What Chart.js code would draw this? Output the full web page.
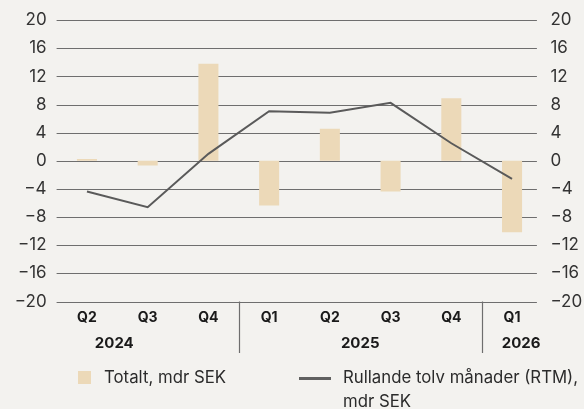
<!DOCTYPE html>
<html>
<head>
<meta charset="utf-8">
<script src="https://cdn.jsdelivr.net/npm/chart.js@4.4.1/dist/chart.umd.min.js"></script>
<style>
body{margin:0;background:#f3f2ef;font-family:Inter,"Open Sans",sans-serif;}
#wrap{position:relative;width:584px;height:409px;}
#legend{position:absolute;left:0;top:0;width:584px;height:409px;pointer-events:none;color:#2b2b2b;font-size:16.8px;}
.sw{position:absolute;left:78px;top:371px;width:13px;height:13px;background:#ecd9b8;}
.ln{position:absolute;left:299px;top:377px;width:32px;height:3px;background:#606060;}
.t1{position:absolute;left:104px;top:365px;line-height:24px;white-space:nowrap;}
.t2{position:absolute;left:343px;top:365px;line-height:24px;white-space:nowrap;}
</style>
</head>
<body>
<div id="wrap">
<canvas id="mycanvas" width="584" height="409"></canvas>
<div id="legend">
  <div class="sw"></div><div class="t1">Totalt, mdr SEK</div>
  <div class="ln"></div><div class="t2">Rullande tolv månader (RTM),<br>mdr SEK</div>
</div>
</div>
<script>
var quarters = ['Q2','Q3','Q4','Q1','Q2','Q3','Q4','Q1'];
var years = ['2024','2025','2026'];
var totalt = [0.25, -0.65, 13.8, -6.35, 4.55, -4.35, 8.9, -10.15];
var rtm = [-4.35, -6.6, 1.0, 7.05, 6.85, 8.25, 2.5, -2.55];

var gridColor = '#6e6e6e';
var textColor = '#333333';

function minus(v){ return String(v).replace('-', '\u2212'); }

// grid lines, year labels and separators
var decor = {
  id: 'decor',
  beforeDatasetsDraw: function(chart){
    var ctx = chart.ctx, a = chart.chartArea, y = chart.scales.y;
    ctx.save();
    ctx.strokeStyle = gridColor;
    ctx.lineWidth = 1.2;
    y.ticks.forEach(function(t){
      var py = Math.round(y.getPixelForValue(t.value)) + 0.5;
      ctx.beginPath();
      ctx.moveTo(a.left, py);
      ctx.lineTo(a.right - 5.5, py);
      ctx.stroke();
    });
    ctx.restore();
  },
  afterDraw: function(chart){
    var ctx = chart.ctx, a = chart.chartArea, x = chart.scales.x;
    ctx.save();
    ctx.strokeStyle = gridColor;
    ctx.lineWidth = 1.2;
    [2.5, 6.5].forEach(function(v){
      var px = Math.round(x.getPixelForValue(v)) + 0.5;
      ctx.beginPath();
      ctx.moveTo(px, a.bottom);
      ctx.lineTo(px, a.bottom + 51.5);
      ctx.stroke();
    });
    ctx.fillStyle = '#1a1a1a';
    ctx.font = 'bold 15px Inter';
    ctx.textAlign = 'center';
    ctx.textBaseline = 'middle';
    var pos = [0.45, 4.5, 7.15];
    years.forEach(function(yr, i){
      ctx.fillText(yr, x.getPixelForValue(pos[i]), a.bottom + 42);
    });
    ctx.restore();
  }
};

var ctx = document.getElementById('mycanvas');
var chart = new Chart(ctx, {
  data: {
    labels: quarters,
    datasets: [
      {
        type: 'line',
        label: 'Rullande tolv månader (RTM), mdr SEK',
        data: rtm,
        borderColor: '#5a5a5a',
        borderWidth: 2,
        pointRadius: 0,
        tension: 0,
        order: 0
      },
      {
        type: 'bar',
        label: 'Totalt, mdr SEK',
        data: totalt,
        backgroundColor: '#ecd9b8',
        barPercentage: 1,
        categoryPercentage: 0.33,
        order: 1
      }
    ]
  },
  options: {
    responsive: false,
    animation: false,
    layout: { padding: { top: 20, left: 0, right: 0, bottom: 0 } },
    plugins: { legend: { display: false }, tooltip: { enabled: false } },
    scales: {
      x: {
        offset: true,
        grid: { display: false, drawTicks: false },
        border: { display: false },
        ticks: { color: '#1a1a1a', font: { family: 'Inter', size: 14, weight: 'bold' }, padding: 8, maxRotation: 0 },
        afterFit: function(s){ s.height = 107.5; }
      },
      y: {
        position: 'left',
        min: -20, max: 20,
        grid: { display: false, drawTicks: false },
        border: { display: false },
        ticks: { stepSize: 4, color: textColor, font: { family: 'Inter', size: 17 }, padding: 10,
          callback: function(v){ return minus(v); } },
        afterFit: function(s){ s.width = 56.6; }
      },
      y2: {
        position: 'right',
        min: -20, max: 20,
        grid: { display: false, drawTicks: false },
        border: { display: false },
        ticks: { stepSize: 4, color: textColor, font: { family: 'Inter', size: 17 }, padding: 8,
          callback: function(v){ return minus(v); } },
        afterFit: function(s){ s.width = 41.6; }
      }
    }
  },
  plugins: [decor]
});
</script>
</body>
</html>
